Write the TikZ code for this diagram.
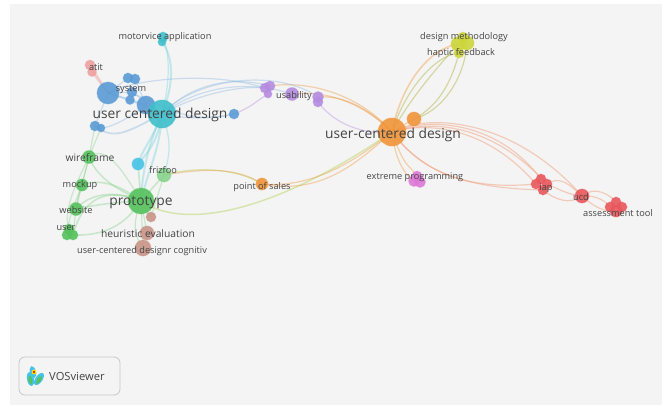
\documentclass[tikz,border=0pt]{standalone}
\usepackage{fontspec}
\setmainfont{Open Sans}
\pgfdeclarelayer{paper}\pgfdeclarelayer{links}
\pgfsetlayers{paper,links,main}
\definecolor{cCyan}{HTML}{3FBFCB}\definecolor{cBlue}{HTML}{5B9BD5}
\definecolor{cGreen}{HTML}{55C25C}\definecolor{cOrange}{HTML}{F0953A}
\definecolor{cPurple}{HTML}{B58BE0}\definecolor{cYellow}{HTML}{CDD53A}
\definecolor{cPink}{HTML}{DE78D8}\definecolor{cRed}{HTML}{E8585C}
\definecolor{cSalmon}{HTML}{EEA0A0}\definecolor{cBrown}{HTML}{C99488}
\definecolor{cSky}{HTML}{45C3E6}
\definecolor{paper}{HTML}{F4F4F4}\definecolor{ink}{HTML}{444444}
\tikzset{
 dot/.style args={#1/#2}{circle,inner sep=0pt,minimum size=2*#2,fill=#1,fill opacity=.9,draw=#1,draw opacity=.35,line width=1pt},
 lab/.style={text=ink,font=\fontsize{9.2}{10}\selectfont,inner sep=0pt,yshift=-1pt},
 midlab/.style={text=ink,font=\fontsize{10.3}{11}\selectfont,inner sep=0pt,yshift=-1pt},
 big/.style={text=ink,font=\fontsize{13.8}{15}\selectfont,inner sep=0pt,yshift=-2pt},
 link/.style={line width=1.2pt,opacity=.4},
 tcyan/.style={link,draw=cCyan!70},
 tblue/.style={link,draw=cBlue!70!white},
 tgreen/.style={link,draw=cGreen!70},
 torange/.style={link,draw=cOrange},
 tpurple/.style={link,draw=cPurple},
 tyellow/.style={link,draw=cYellow!80!black},
 tred/.style={link,draw=cRed!45!cOrange!70,opacity=.5},
 tolive/.style={link,draw=cYellow!70!cGreen},
}
\begin{document}
\begin{tikzpicture}[x=1pt,y=-1pt]
\useasboundingbox (0,0) rectangle (662,405);
\begin{pgfonlayer}{paper}
\fill[white] (0,0) rectangle (662,405);
\fill[paper] (10,4) rectangle (662,405);
\end{pgfonlayer}
% cyan cluster
\node[dot=cBlue/9] (b2) at (146,105) {};
\node[dot=cCyan/14] (ucd) at (162,114) {};
\node[dot=cBlue/11] (b1) at (108,93) {};
\node[dot=cBlue/5] (s1) at (128,78) {};
\node[dot=cBlue/5] (s2) at (135,79) {};
\node[dot=cBlue/5] (s3) at (132,92) {};
\node[dot=cBlue/4.5] (s4) at (130,100) {};
\node[dot=cSalmon/5] (a1) at (90,65) {};
\node[dot=cSalmon/4.5] (a2) at (92,72) {};
\node[dot=cBlue/5] (b3) at (234,114) {};
\node[dot=cBlue/5] (b4) at (95,126) {};
\node[dot=cBlue/4] (b5) at (101,128) {};
\node[dot=cCyan/5] (m1) at (163,37) {};
\node[dot=cCyan/4] (m2) at (162,42) {};
\node[dot=cSky/6] (sky) at (138,164) {};
% green cluster
\node[dot=cGreen!70!white/7] (friz) at (164,175) {};
\node[dot=cGreen/6.5] (wire) at (89,157) {};
\node[dot=cGreen/6] (mock) at (82,185) {};
\node[dot=cGreen/6.5] (web) at (76,209) {};
\node[dot=cGreen/5] (u1) at (67,235) {};
\node[dot=cGreen/5] (u2) at (73,235) {};
\node[dot=cGreen/5] (u3) at (69,229) {};
\node[dot=cGreen/13] (proto) at (141,201) {};
% brown
\node[dot=cBrown/5] (br1) at (151,217) {};
\node[dot=cBrown/7] (br2) at (147,233) {};
\node[dot=cBrown/8] (br3) at (143,248) {};
% orange
\node[dot=cOrange/6] (pos) at (262,184) {};
\node[dot=cOrange/14] (ucd2) at (392,132) {};
\node[dot=cOrange/7] (o2) at (414,119) {};
% purple
\node[dot=cPurple/5] (p1) at (265,88) {};
\node[dot=cPurple/5] (p2) at (270,86) {};
\node[dot=cPurple/4] (p3) at (268,94) {};
\node[dot=cPurple/6.5] (p4) at (292,94) {};
\node[dot=cPurple/5.5] (p5) at (318,97) {};
\node[dot=cPurple/5] (p6) at (318,102) {};
% yellow
\node[dot=cYellow/7] (y1) at (458,44) {};
\node[dot=cYellow/7] (y2) at (467,43) {};
\node[dot=cYellow/5] (y3) at (463,37) {};
\node[dot=cYellow/5] (y4) at (459,53) {};
% pink
\node[dot=cPink/5.5] (k1) at (414,181) {};
\node[dot=cPink/5.5] (k2) at (420,182) {};
\node[dot=cPink/5] (k3) at (417,176) {};
% red
\node[dot=cRed/5] (r1) at (541,179) {};
\node[dot=cRed/5] (r2) at (547,184) {};
\node[dot=cRed/5] (r3) at (536,184) {};
\node[dot=cRed/5] (r4) at (543,190) {};
\node[dot=cRed/7] (u5) at (582,196) {};
\node[dot=cRed/5] (t1) at (616,202) {};
\node[dot=cRed/5] (t2) at (622,207) {};
\node[dot=cRed/5] (t3) at (610,207) {};
\node[dot=cRed/6] (t4) at (616,211) {};
% links
\begin{pgfonlayer}{links}
\draw[tcyan,line width=2pt] (ucd.center) .. controls (172,90) and (176,60) .. (m2.center);
\draw[tcyan] (ucd.center) .. controls (168,90) and (172,60) .. (m1.center);
\draw[tcyan,line width=2pt] (ucd.center) .. controls (152,140) and (142,150) .. (sky.center);
\draw[tcyan,line width=2pt] (ucd.center) .. controls (158,140) and (150,150) .. (sky.center);
\draw[tcyan,line width=2pt] (ucd.center) .. controls (150,140) and (142,170) .. (proto.center);
\draw[tcyan,line width=2pt] (ucd.center) .. controls (160,150) and (148,170) .. (proto.center);
\draw[tcyan] (ucd.center) .. controls (172,140) and (170,155) .. (friz.center);
\draw[tgreen,line width=1.6pt] (sky.center) -- (proto.center);
\draw[tblue] (ucd.center) .. controls (190,120) and (215,118) .. (b3.center);
\draw[tblue] (ucd.center) .. controls (190,85) and (230,75) .. (p2.center);
\draw[tblue] (ucd.center) .. controls (195,95) and (240,85) .. (p1.center);
\draw[tblue] (ucd.center) .. controls (200,85) and (250,80) .. (p4.center);
\draw[tblue] (b1.center) .. controls (150,85) and (170,130) .. (b3.center);
\draw[tblue] (b1.center) .. controls (130,80) and (210,70) .. (p1.center);
\draw[tpurple] (b3.center) .. controls (250,108) and (258,100) .. (p3.center);
\draw[tblue,line width=2pt] (b1.center) -- (b2.center);
\draw[tblue] (b1.center) -- (s1.center);
\draw[tblue] (b1.center) -- (s4.center);
\draw[tblue] (s2.center) -- (b2.center);
\draw[tblue] (s3.center) -- (ucd.center);
\draw[tblue] (s4.center) -- (ucd.center);
\draw[tblue,line width=1.8pt] (b4.center) .. controls (115,142) and (130,130) .. (ucd.center);
\draw[tblue] (b5.center) .. controls (110,128) and (130,118) .. (b2.center);
\draw[tblue] (b1.center) -- (b4.center);
\draw[tpurple,draw=cSalmon,line width=2pt] (a1.center) -- (b1.center);
\draw[tpurple,draw=cSalmon,line width=2pt] (a2.center) -- (b1.center);
% green
\draw[tgreen] (wire.center) -- (b4.center);
\draw[tgreen] (wire.center) -- (b5.center);
\draw[tgreen,line width=1.6pt] (wire.center) .. controls (98,180) and (120,190) .. (proto.center);
\draw[tgreen] (wire.center) .. controls (105,145) and (120,165) .. (proto.center);
\draw[tgreen] (wire.center) -- (mock.center);
\draw[tgreen] (wire.center) .. controls (85,175) and (78,195) .. (web.center);
\draw[tgreen] (wire.center) .. controls (78,180) and (62,210) .. (u3.center);
\draw[tgreen] (mock.center) -- (web.center);
\draw[tgreen,line width=1.6pt] (mock.center) .. controls (100,178) and (120,185) .. (proto.center);
\draw[tgreen] (mock.center) .. controls (74,205) and (68,220) .. (u1.center);
\draw[tgreen,line width=1.6pt] (web.center) .. controls (90,193) and (115,190) .. (proto.center);
\draw[tgreen,line width=1.6pt] (web.center) .. controls (95,205) and (115,202) .. (proto.center);
\draw[tgreen] (web.center) -- (u2.center);
\draw[tgreen,line width=1.6pt] (u2.center) .. controls (85,190) and (115,190) .. (proto.center);
\draw[tgreen,line width=1.6pt] (u2.center) .. controls (105,236) and (125,225) .. (proto.center);
\draw[tgreen,line width=1.6pt] (proto.center) -- (friz.center);
\draw[tolive,line width=1.5pt] (proto.center) .. controls (175,225) and (255,225) .. (ucd2.center);
\draw[tolive] (friz.center) .. controls (200,165) and (240,170) .. (pos.center);
\draw[tgreen] (proto.center) -- (br1.center);
\draw[tgreen] (proto.center) -- (br2.center);
\draw[tgreen] (proto.center) -- (br3.center);
\draw[tgreen] (proto.center) .. controls (132,225) and (134,235) .. (br3.center);
\draw[tgreen] (friz.center) -- (br1.center);
% orange
\draw[torange] (pos.center) .. controls (320,195) and (355,165) .. (ucd2.center);
\draw[torange] (friz.center) .. controls (195,170) and (235,165) .. (pos.center);
\draw[torange] (pos.center) .. controls (310,188) and (350,165) .. (ucd2.center);
\draw[torange] (p2.center) .. controls (310,80) and (360,95) .. (ucd2.center);
\draw[torange] (p4.center) .. controls (330,90) and (365,105) .. (ucd2.center);
\draw[torange] (p5.center) .. controls (345,95) and (370,110) .. (ucd2.center);
\draw[tpurple] (p6.center) .. controls (335,125) and (365,135) .. (ucd2.center);
\draw[tblue] (ucd.center) .. controls (200,75) and (280,70) .. (p5.center);
\draw[torange] (ucd2.center) -- (o2.center);
\draw[torange] (ucd2.center) .. controls (405,170) and (410,165) .. (k3.center);
\draw[torange] (ucd2.center) .. controls (395,160) and (405,175) .. (k1.center);
% yellow links
\draw[torange,line width=1.6pt] (ucd2.center) .. controls (400,90) and (425,50) .. (y1.center);
\draw[tyellow] (ucd2.center) .. controls (405,90) and (435,55) .. (y4.center);
\draw[tyellow] (ucd2.center) .. controls (412,95) and (440,65) .. (y1.center);
\draw[tyellow] (o2.center) .. controls (440,105) and (452,80) .. (y4.center);
\draw[tyellow] (o2.center) .. controls (445,110) and (465,75) .. (y2.center);
% red
\draw[tred] (ucd2.center) .. controls (425,118) and (495,118) .. (r1.center);
\draw[tred] (ucd2.center) .. controls (425,122) and (485,125) .. (r3.center);
\draw[tred] (ucd2.center) .. controls (430,120) and (490,122) .. (r2.center);
\draw[tred] (ucd2.center) .. controls (430,112) and (515,120) .. (u5.center);
\draw[tred] (ucd2.center) .. controls (425,175) and (470,190) .. (r3.center);
\draw[tred] (ucd2.center) .. controls (420,170) and (460,188) .. (r4.center);
\draw[tred] (r2.center) .. controls (560,175) and (570,185) .. (u5.center);
\draw[tred] (r2.center) .. controls (560,190) and (570,195) .. (u5.center);
\draw[tred] (r4.center) .. controls (555,200) and (570,205) .. (u5.center);
\draw[tred] (u5.center) .. controls (595,185) and (610,195) .. (t1.center);
\draw[tred] (u5.center) .. controls (595,195) and (605,200) .. (t3.center);
\draw[tred] (u5.center) .. controls (595,208) and (605,212) .. (t4.center);
\end{pgfonlayer}
% labels
\node[lab] (l1) at (165,36) {motorvice application};
\node[lab] (l2) at (96,66) {atit};
\node[lab] (l3) at (131,89) {system};
\node[big] (l4) at (160,113) {user centered design};
\node[lab] (l5) at (294,95) {usability};
\node[midlab] (l6) at (90,157) {wireframe};
\node[lab] (l7) at (163,169) {frizfoo};
\node[lab] (l8) at (80,184) {mockup};
\node[lab] (l9) at (76,209) {website};
\node[lab] (l10) at (66,227) {user};
\node[big] (l11) at (141,201) {prototype};
\node[midlab] (l12) at (148,233) {heuristic evaluation};
\node[lab] (l13) at (142,250) {user-centered designr cognitiv};
\node[lab] (l14) at (262,186) {point of sales};
\node[big] (l15) at (393,133) {user-centered design};
\node[lab] (l16) at (464,36) {design methodology};
\node[lab] (l17) at (461,52) {haptic feedback};
\node[lab] (l18) at (415,176) {extreme programming};
\node[lab] (l19) at (546,187) {iap};
\node[lab] (l20) at (581,196) {ucd};
\node[lab] (l21) at (618,212) {assessment tool};
% logo box
\node[draw=black!22,line width=.8pt,rounded corners=6pt,minimum width=101pt,minimum height=38pt,fill=paper,inner sep=0pt] (logo) at (69.5,376) {};
\node[text=ink,font=\fontsize{11.2}{12}\selectfont,inner sep=0pt,anchor=west] (vos) at (49,376) {VOSviewer};
\fill[cSky,rotate around={10:(30.5,379)}] (30.5,379) ellipse (3.5pt and 7pt);
\fill[cSky,rotate around={-35:(39,379)}] (39,379) ellipse (3.5pt and 7pt);
\fill[cSky,rotate around={15:(33,372)}] (33,372) ellipse (3pt and 6pt);
\fill[cGreen,rotate around={10:(30.5,380)}] (30.5,380) ellipse (1.8pt and 4.5pt);
\fill[cGreen,rotate around={-35:(39,380)}] (39,380) ellipse (1.8pt and 4.5pt);
\fill[yellow!80!orange] (34,372) circle (2.4pt);
\fill[red!70!black] (34,372) circle (1.2pt);
\end{tikzpicture}
\end{document}
